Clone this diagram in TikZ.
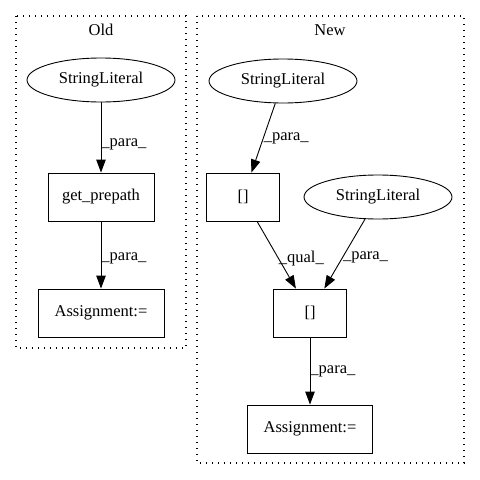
\documentclass[tikz,border=0pt]{standalone}
\usepackage{fontspec}
\setmainfont{Liberation Serif}
\usepackage{tikz}
\usetikzlibrary{shapes.geometric,arrows.meta}

\begin{document}
\begin{tikzpicture}[x=1pt,y=-1pt,font=\fontsize{16.5}{18}\selectfont,
  lit/.style={ellipse,draw,line width=0.9pt,inner sep=0pt,minimum width=148pt,minimum height=44pt},
  op/.style={rectangle,draw,line width=0.9pt,inner sep=0pt,minimum height=48pt},
  flow/.style={line width=0.9pt,-{Triangle[length=13pt,width=9.5pt]}},
  lbl/.style={anchor=west,inner sep=0pt},
  cluster/.style={line width=1.1pt,dash pattern=on 1.1pt off 4.9pt}]
\useasboundingbox (0,0) rectangle (480,480);
% Old
\draw[cluster] (16,16) rectangle (186,348);
\node (oldtitle) at (101,30) {Old};
\node[lit] (oldlit) at (101,80) {StringLiteral};
\node[op,minimum width=106pt] (oldget) at (101,197) {get\_prepath};
\node[op,minimum width=126pt] (oldassign) at (101,313) {Assignment:=};
\draw[flow] (oldlit) -- node[lbl,pos=0.6] {\_para\_} (oldget);
\draw[flow] (oldget) -- node[lbl,pos=0.55] {\_para\_} (oldassign);
% New
\draw[cluster] (197,16) rectangle (464,463);
\node (newtitle) at (330,30) {New};
\node[lit] (newlit) at (283,81) {StringLiteral};
\node[op,minimum width=73pt] (newidx) at (243,197) {[]};
\node[lit] (newlitb) at (378,197) {StringLiteral};
\node[op,minimum width=73pt] (newidxb) at (310,313) {[]};
\node[op,minimum width=125pt] (newassign) at (310,429) {Assignment:=};
\draw[flow] (newlit) -- node[lbl,pos=0.5] {\_para\_} (newidx);
\draw[flow] (newidx) -- node[lbl,pos=0.55] {\_qual\_} (newidxb);
\draw[flow] (newlitb) -- node[lbl,pos=0.55] {\_para\_} (newidxb);
\draw[flow] (newidxb) -- node[lbl,pos=0.5] {\_para\_} (newassign);
\end{tikzpicture}
\end{document}
